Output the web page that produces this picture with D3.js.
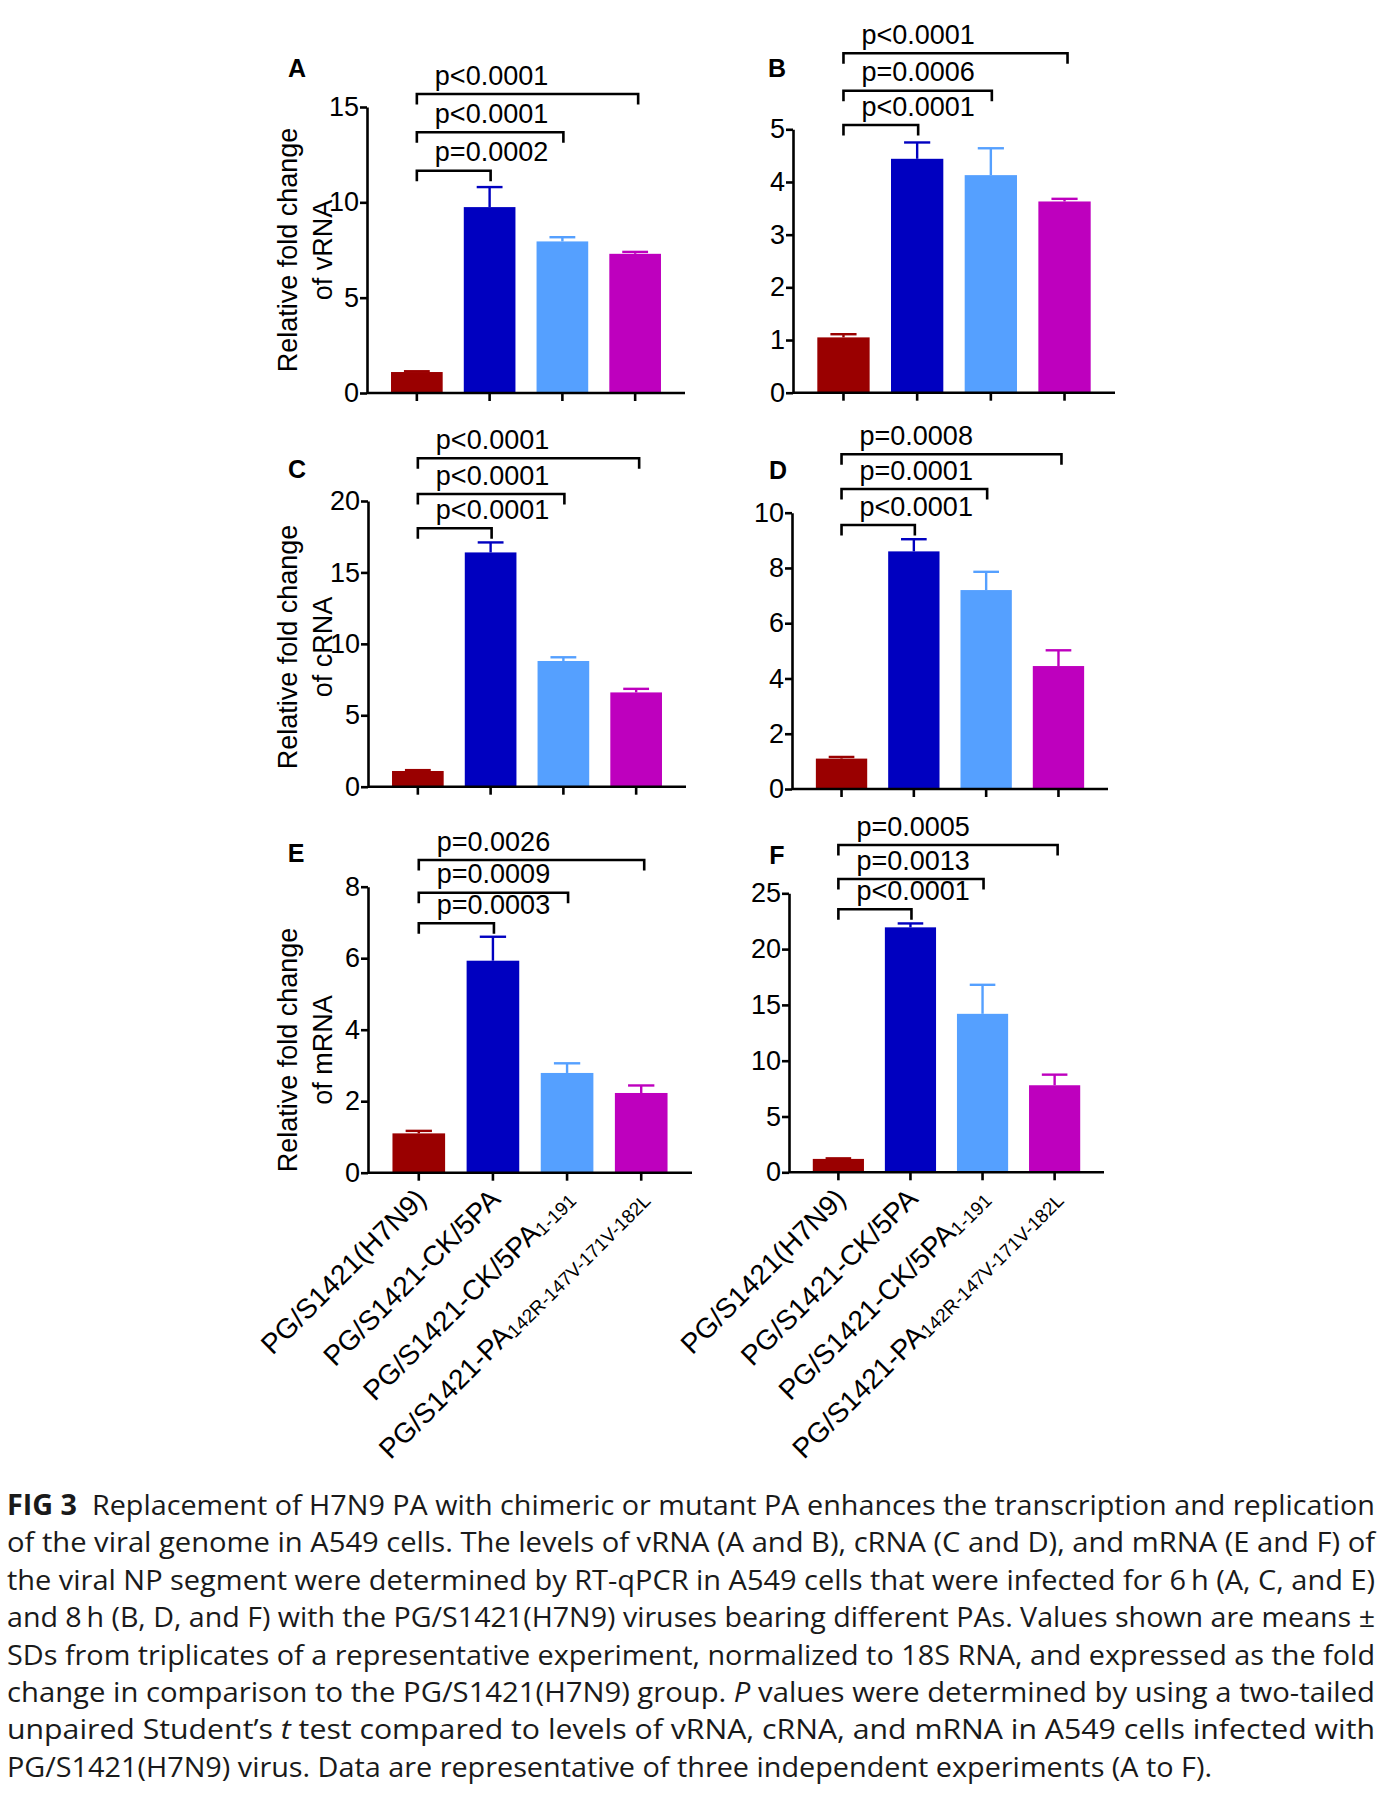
<!DOCTYPE html>
<html><head><meta charset="utf-8">
<script src="https://cdn.jsdelivr.net/npm/d3@7"></script>
<style>body{margin:0;background:#fff} svg{display:block}</style>
</head><body>
<script>
// ---------------- DATA ----------------
const categories   = ["PG/S1421(H7N9)", "PG/S1421-CK/5PA", "PG/S1421-CK/5PA1-191", "PG/S1421-PA142R-147V-171V-182L"];
const categoryMain = ["PG/S1421(H7N9)", "PG/S1421-CK/5PA", "PG/S1421-CK/5PA", "PG/S1421-PA"];
const categorySub  = ["", "", "1-191", "142R-147V-171V-182L"];

const meanA = [1.10, 9.75, 7.95, 7.30];   const sdA = [0.04, 1.05, 0.22, 0.10];
const meanB = [1.05, 4.44, 4.13, 3.63];   const sdB = [0.06, 0.31, 0.51, 0.05];
const meanC = [1.10, 16.40, 8.80, 6.60];  const sdC = [0.06, 0.70, 0.26, 0.25];
const meanD = [1.10, 8.60, 7.20, 4.45];   const sdD = [0.06, 0.44, 0.66, 0.57];
const meanE = [1.10, 5.93, 2.79, 2.23];   const sdE = [0.07, 0.67, 0.27, 0.21];
const meanF = [1.20, 21.95, 14.20, 7.80]; const sdF = [0.05, 0.35, 2.60, 0.95];

// p values: first group vs groups 2, 3, 4
const pA = ["p=0.0002", "p<0.0001", "p<0.0001"];
const pB = ["p<0.0001", "p=0.0006", "p<0.0001"];
const pC = ["p<0.0001", "p<0.0001", "p<0.0001"];
const pD = ["p<0.0001", "p=0.0001", "p=0.0008"];
const pE = ["p=0.0003", "p=0.0009", "p=0.0026"];
const pF = ["p<0.0001", "p=0.0013", "p=0.0005"];

const ticksA = [0, 5, 10, 15];
const ticksB = [0, 1, 2, 3, 4, 5];
const ticksC = [0, 5, 10, 15, 20];
const ticksD = [0, 2, 4, 6, 8, 10];
const ticksE = [0, 2, 4, 6, 8];
const ticksF = [0, 5, 10, 15, 20, 25];

const yTitleA = ["Relative fold change", "of vRNA"];
const yTitleC = ["Relative fold change", "of cRNA"];
const yTitleE = ["Relative fold change", "of mRNA"];

const captionLines = [
  [["b","FIG 3"],["n","  Replacement of H7N9 PA with chimeric or mutant PA enhances the transcription and replication"]],
  [["n","of the viral genome in A549 cells. The levels of vRNA (A and B), cRNA (C and D), and mRNA (E and F) of"]],
  [["n","the viral NP segment were determined by RT-qPCR in A549 cells that were infected for 6\u2009h (A, C, and E)"]],
  [["n","and 8\u2009h (B, D, and F) with the PG/S1421(H7N9) viruses bearing different PAs. Values shown are means \u00b1"]],
  [["n","SDs from triplicates of a representative experiment, normalized to 18S RNA, and expressed as the fold"]],
  [["n","change in comparison to the PG/S1421(H7N9) group. "],["i","P"],["n"," values were determined by using a two-tailed"]],
  [["n","unpaired Student\u2019s "],["i","t"],["n"," test compared to levels of vRNA, cRNA, and mRNA in A549 cells infected with"]],
  [["n","PG/S1421(H7N9) virus. Data are representative of three independent experiments (A to F)."]]
];

// ---------------- STYLE / LAYOUT ----------------
const barColors = ["#9A0000", "#0000C0", "#55A0FF", "#BE00BE"];
const FONT = "'Liberation Sans', Arial, Helvetica, sans-serif";

const panels = [
  {id:"A", mean:meanA, sd:sdA, p:pA, ticks:ticksA, x0:367, x1:685, yTop:107,   yBot:393,   letter:[297,68],  br:[170.7,132.3,94.0], title:yTitleA, titleY:250},
  {id:"B", mean:meanB, sd:sdB, p:pB, ticks:ticksB, x0:793, x1:1115, yTop:129.3, yBot:392.7, letter:[777,68],  br:[125.0,90.7,53.3]},
  {id:"C", mean:meanC, sd:sdC, p:pC, ticks:ticksC, x0:368, x1:686, yTop:501,   yBot:786.7, letter:[297,469], br:[528.3,494.0,458.3], title:yTitleC, titleY:647},
  {id:"D", mean:meanD, sd:sdD, p:pD, ticks:ticksD, x0:792, x1:1108, yTop:512.7, yBot:789,   letter:[778,470], br:[525.0,489.0,454.3]},
  {id:"E", mean:meanE, sd:sdE, p:pE, ticks:ticksE, x0:368, x1:692, yTop:886.7, yBot:1172.7,letter:[296,853], br:[923.3,892.7,860.0], title:yTitleE, titleY:1050, xlab:true},
  {id:"F", mean:meanF, sd:sdF, p:pF, ticks:ticksF, x0:789, x1:1104, yTop:893.3, yBot:1172.3,letter:[777,855], br:[909.3,879.0,845.0], xlab:true}
];

const svg = d3.select("body").append("svg")
  .attr("width", 1389).attr("height", 1795)
  .style("background", "#fff");

panels.forEach(P => {
  const g = svg.append("g").attr("class", "panel-" + P.id);
  const x = d3.scaleBand().domain(categories).range([P.x0, P.x1]).paddingInner(0.29).paddingOuter(0.33);
  const y = d3.scaleLinear().domain([0, d3.max(P.ticks)]).range([P.yBot, P.yTop]);
  const rows = categories.map((c, i) => ({c, i, m: P.mean[i], s: P.sd[i]}));
  const cx = c => x(c) + x.bandwidth()/2;

  // bars
  g.selectAll("rect.bar").data(rows).join("rect").attr("class", "bar")
    .attr("x", d => x(d.c)).attr("width", x.bandwidth())
    .attr("y", d => y(d.m)).attr("height", d => y(0) - y(d.m))
    .attr("fill", d => barColors[d.i]);

  // error bars (upper only)
  const capW = x.bandwidth() * 0.5;
  g.selectAll("line.err").data(rows).join("line").attr("class", "err")
    .attr("x1", d => cx(d.c)).attr("x2", d => cx(d.c))
    .attr("y1", d => y(d.m)).attr("y2", d => y(d.m + d.s))
    .attr("stroke", d => barColors[d.i]).attr("stroke-width", 2.4);
  g.selectAll("line.cap").data(rows).join("line").attr("class", "cap")
    .attr("x1", d => cx(d.c) - capW/2).attr("x2", d => cx(d.c) + capW/2)
    .attr("y1", d => y(d.m + d.s)).attr("y2", d => y(d.m + d.s))
    .attr("stroke", d => barColors[d.i]).attr("stroke-width", 2.4);

  // axes
  const yAxis = g.append("g").attr("transform", `translate(${P.x0},0)`)
    .call(d3.axisLeft(y).tickValues(P.ticks).tickFormat(d3.format("d")).tickSize(7).tickSizeOuter(0).tickPadding(1));
  const xAxis = g.append("g").attr("transform", `translate(0,${P.yBot})`)
    .call(d3.axisBottom(x).tickSize(8).tickSizeOuter(0).tickFormat(""));
  [yAxis, xAxis].forEach(a => {
    a.select(".domain").attr("stroke", "#000").attr("stroke-width", 2.6);
    a.selectAll(".tick line").attr("stroke", "#000").attr("stroke-width", 2.6);
  });
  yAxis.selectAll(".tick text").attr("font-family", FONT).attr("font-size", 27).attr("fill", "#000");
  xAxis.selectAll(".tick text").remove();
  xAxis.select(".domain").attr("d", `M${P.x0},0H${P.x1}`);

  // significance brackets
  P.p.forEach((lab, k) => {
    const yy = P.br[k];
    const xl = cx(categories[0]);
    const xr = cx(categories[k+1]) + (k === 2 ? 3 : 1);
    g.append("path")
      .attr("d", `M${xl},${yy + 10.5}V${yy}H${xr}V${yy + 10.5}`)
      .attr("fill", "none").attr("stroke", "#000").attr("stroke-width", 2.6);
    g.append("text")
      .attr("x", xl + 18).attr("y", yy - 9.5)
      .attr("font-family", FONT).attr("font-size", 27).attr("fill", "#000")
      .text(lab);
  });

  // panel letter
  g.append("text").attr("x", P.letter[0]).attr("y", P.letter[1] + 9)
    .attr("text-anchor", "middle").attr("font-family", FONT).attr("font-weight", "bold")
    .attr("font-size", 25).text(P.id);

  // y title
  if (P.title) {
    const bxs = [297, 331.5];
    P.title.forEach((t, j) => {
      g.append("text")
        .attr("transform", `translate(${bxs[j]},${P.titleY}) rotate(-90)`)
        .attr("text-anchor", "middle").attr("font-family", FONT).attr("font-size", 27)
        .text(t);
    });
  }

  // x labels
  if (P.xlab) {
    categories.forEach((c, i) => {
      const t = g.append("text")
        .attr("transform", `translate(${cx(c) + 9},${P.yBot + 28}) rotate(-45)`)
        .attr("text-anchor", "end").attr("font-family", FONT).attr("font-size", 28);
      t.append("tspan").text(categoryMain[i]);
      if (categorySub[i]) t.append("tspan").attr("font-size", 19).attr("dy", 2).text(categorySub[i]);
    });
  }
});

// caption
const CAPFONT = "'Open Sans', 'Noto Sans', sans-serif";
captionLines.forEach((parts, li) => {
  const last = li === captionLines.length - 1;
  const t = svg.append("text")
    .attr("x", 7).attr("y", 1515 + li * 37.4)
    .attr("font-family", CAPFONT).attr("font-size", 28).attr("fill", "#1a1a1a")
    .attr("textLength", last ? 1205 : 1368).attr("lengthAdjust", "spacingAndGlyphs")
    .attr("xml:space", "preserve");
  parts.forEach(([s, str]) => {
    const ts = t.append("tspan").text(str);
    if (s === "b") ts.attr("font-weight", "bold");
    if (s === "i") ts.attr("font-style", "italic");
  });
});
</script>
</body></html>
